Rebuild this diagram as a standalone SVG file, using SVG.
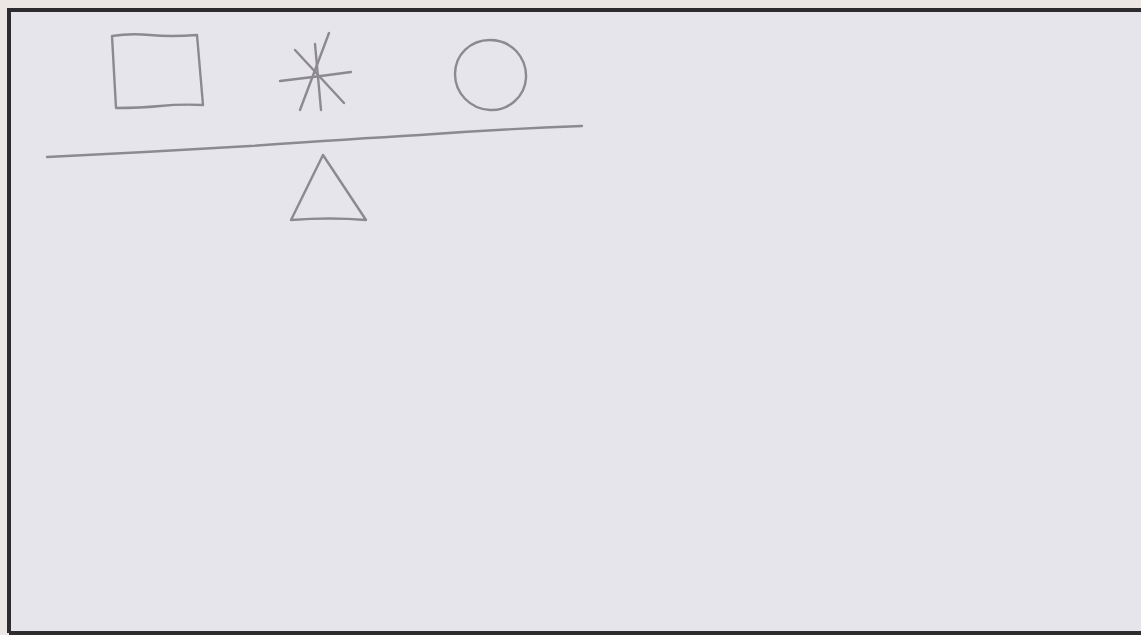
<svg xmlns="http://www.w3.org/2000/svg" width="1141" height="635" viewBox="0 0 1141 635">
<style>
.pen{fill:none;stroke:#8c8a8e;stroke-width:2.4;stroke-linecap:round;stroke-linejoin:round}
.frame{fill:none;stroke:#2f2c30;stroke-width:4}
</style>
<rect x="0" y="0" width="1141" height="635" fill="#ece6e4"/>
<rect x="9" y="10" width="1132" height="623" fill="#e7e5ec"/>
<g id="frame">
<path class="frame" d="M9,633 L9,10 L1141,10"/>
<path class="frame" d="M9,633 L1141,633"/>
</g>
<g id="square">
<path class="pen" d="M112,36 Q130,33 150,35 T197,35 L203,105 Q180,104 160,106 T116,108 Z"/>
</g>
<g id="asterisk">
<path class="pen" d="M280,81 Q315,77 351,72"/>
<path class="pen" d="M329,33 L300,110"/>
<path class="pen" d="M295,50 L344,103"/>
<path class="pen" d="M315,44 L321,110"/>
</g>
<g id="circle">
<path class="pen" d="M490,40 C512,40 527,58 526,78 C525,97 508,111 490,110 C470,109 455,93 455,74 C455,55 470,40 490,40 Z"/>
</g>
<g id="connectors">
<path class="pen" d="M47,157 Q150,152 250,146 Q350,139 420,135 Q500,129 582,126"/>
</g>
<g id="triangle">
<path class="pen" d="M323,155 L291,220 Q330,217 366,220 L323,155 Z"/>
</g>
</svg>
